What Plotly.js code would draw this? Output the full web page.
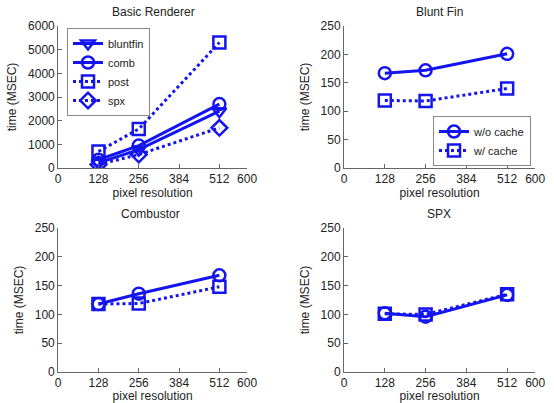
<!DOCTYPE html>
<html><head><meta charset="utf-8">
<script src="https://cdn.plot.ly/plotly-3.0.1.min.js"></script>
<style>html,body{margin:0;padding:0;background:#fff}#chart{width:554px;height:403px}</style>
</head><body><div id="chart"></div>
<script>
const res = [128, 256, 512];
const xTicks = [0, 128, 256, 384, 512, 600];

// Basic Renderer
const brBluntfin = [220, 780, 2400];
const brComb = [350, 950, 2700];
const brPost = [700, 1650, 5300];
const brSpx = [150, 570, 1700];

// Blunt Fin
const bfNoCache = [167, 172, 201];
const bfCache = [119, 118, 140];

// Combustor
const cbNoCache = [118, 136, 168];
const cbCache = [118, 119, 148];

// SPX
const spNoCache = [102, 96, 134];
const spCache = [101, 100, 135];

const blue = '#1414f0';
function tr(y, name, sym, dash, xa, ya, leg, show) {
  return {x: res, y: y, name: name, type: 'scatter', mode: 'lines+markers',
    xaxis: xa, yaxis: ya, legend: leg, showlegend: show,
    line: {color: blue, width: 3, dash: dash},
    marker: {symbol: sym, size: 12, color: blue, line: {color: blue, width: 2.5}}};
}
const data = [
  tr(brBluntfin, 'bluntfin', 'triangle-down-open', 'solid', 'x', 'y', 'legend', true),
  tr(brComb, 'comb', 'circle-open', 'solid', 'x', 'y', 'legend', true),
  tr(brPost, 'post', 'square-open', 'dot', 'x', 'y', 'legend', true),
  tr(brSpx, 'spx', 'diamond-open', 'dot', 'x', 'y', 'legend', true),
  tr(bfNoCache, 'w/o cache', 'circle-open', 'solid', 'x2', 'y2', 'legend2', true),
  tr(bfCache, 'w/ cache', 'square-open', 'dot', 'x2', 'y2', 'legend2', true),
  tr(cbNoCache, 'w/o cache', 'circle-open', 'solid', 'x3', 'y3', 'legend', false),
  tr(cbCache, 'w/ cache', 'square-open', 'dot', 'x3', 'y3', 'legend', false),
  tr(spNoCache, 'w/o cache', 'circle-open', 'solid', 'x4', 'y4', 'legend', false),
  tr(spCache, 'w/ cache', 'square-open', 'dot', 'x4', 'y4', 'legend', false)
];
const font = {family: 'Liberation Sans, Arial, sans-serif', size: 12, color: '#222'};
function xax(dom, anchor) {
  return {domain: dom, anchor: anchor, range: [0, 600], tickvals: xTicks, ticktext: xTicks.map(String),
    showline: true, linecolor: '#666', linewidth: 1, ticks: 'inside', ticklen: 4, tickcolor: '#666',
    showgrid: false, zeroline: false, mirror: false, title: {text: 'pixel resolution', standoff: 2, font: {size: 12}},
    tickfont: {size: 12}};
}
function yax(dom, anchor, max, dt) {
  return {domain: dom, anchor: anchor, range: [0, max], dtick: dt,
    showline: true, linecolor: '#666', linewidth: 1, ticks: 'inside', ticklen: 4, tickcolor: '#666',
    showgrid: false, zeroline: false, title: {text: 'time (MSEC)', standoff: 8, font: {size: 12}},
    tickfont: {size: 12}};
}
const L = [0.105, 0.446], R = [0.621, 0.966], T = [0.583, 0.9355], B = [0.077, 0.434];
const legBase = {bgcolor: '#fff', bordercolor: '#888', borderwidth: 1, itemwidth: 30,
  tracegroupgap: 0, font: {size: 11}};
const layout = {
  width: 554, height: 403, margin: {l: 0, r: 0, t: 0, b: 0},
  paper_bgcolor: '#fff', plot_bgcolor: '#fff', font: font,
  xaxis: xax(L, 'y'), yaxis: yax(T, 'x', 6000, 1000),
  xaxis2: xax(R, 'y2'), yaxis2: yax(T, 'x2', 250, 50),
  xaxis3: xax(L, 'y3'), yaxis3: yax(B, 'x3', 250, 50),
  xaxis4: xax(R, 'y4'), yaxis4: yax(B, 'x4', 250, 50),
  legend: Object.assign({x: 67/554, y: 1 - 28/403, xanchor: 'left', yanchor: 'top'}, legBase),
  legend2: Object.assign({x: 531/554, y: 1 - 166/403, xanchor: 'right', yanchor: 'bottom'}, legBase),
  annotations: [
    {text: 'Basic Renderer', x: 153/554, y: 1 - 12/403},
    {text: 'Blunt Fin', x: 439/554, y: 1 - 12/403},
    {text: 'Combustor', x: 150/554, y: 1 - 214/403},
    {text: 'SPX', x: 439/554, y: 1 - 214/403}
  ].map(a => Object.assign(a, {xref: 'paper', yref: 'paper', xanchor: 'center', yanchor: 'middle',
    showarrow: false, font: {size: 12}}))
};
Plotly.newPlot('chart', data, layout, {displayModeBar: false, staticPlot: true});
</script></body></html>
